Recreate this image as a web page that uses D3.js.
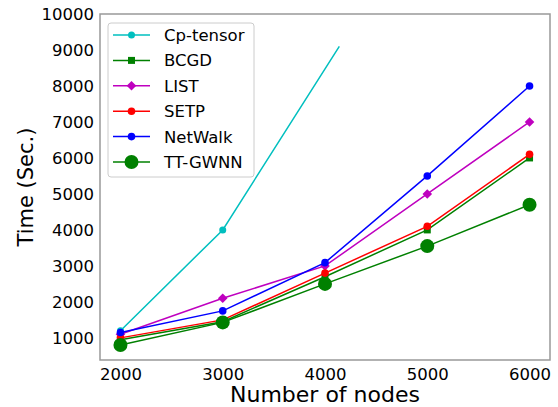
<!DOCTYPE html>
<html>
<head>
<meta charset="utf-8">
<script src="https://cdn.jsdelivr.net/npm/d3@7"></script>
<style>
  body { margin: 0; background: #fff; }
  text { font-family: "DejaVu Sans", sans-serif; fill: #000; }
</style>
</head>
<body>
<div class="chart"></div>
<script>
// node counts on the x axis
var nodes = [2000, 3000, 4000, 5000, 6000];
var xTicks = [2000, 3000, 4000, 5000, 6000];
var yTicks = [1000, 2000, 3000, 4000, 5000, 6000, 7000, 8000, 9000, 10000];

// Cp-tensor runs off quickly, last point has no marker
var cpNodes = [2000, 3000, 4140];
var cpTensor = [1200, 4000, 9100];
var bcgd = [950, 1450, 2700, 4000, 6000];
var list = [1100, 2100, 3000, 5000, 7000];
var setp = [1000, 1500, 2800, 4100, 6100];
var netwalk = [1150, 1750, 3090, 5500, 8000];
var ttgwnn = [800, 1430, 2500, 3550, 4700];

var series = [
  {name: "Cp-tensor", x: cpNodes, y: cpTensor, color: "#00bfbf", shape: "circle", size: 3.5, marked: 2},
  {name: "BCGD", x: nodes, y: bcgd, color: "#008000", shape: "square", size: 3.5},
  {name: "LIST", x: nodes, y: list, color: "#bf00bf", shape: "diamond", size: 4.8},
  {name: "SETP", x: nodes, y: setp, color: "#ff0000", shape: "circle", size: 3.8},
  {name: "NetWalk", x: nodes, y: netwalk, color: "#0000ff", shape: "circle", size: 3.8},
  {name: "TT-GWNN", x: nodes, y: ttgwnn, color: "#008000", shape: "circle", size: 7}
];

var W = 558, H = 407;
var margin = {left: 100, right: 8, top: 14, bottom: 47};

var svg = d3.select("div.chart")
  .append("svg")
  .attr("width", W)
  .attr("height", H);

var x = d3.scaleLinear().domain([1800, 6200]).range([margin.left, W - margin.right]);
var y = d3.scaleLinear().domain([385, 10000]).range([H - margin.bottom, margin.top]);

svg.append("clipPath").attr("id", "clip")
  .append("rect")
  .attr("x", margin.left).attr("y", margin.top)
  .attr("width", W - margin.left - margin.right)
  .attr("height", H - margin.top - margin.bottom);

// axes
var xAxis = svg.append("g")
  .attr("transform", "translate(0," + (H - margin.bottom) + ")")
  .call(d3.axisBottom(x).tickValues(xTicks).tickSize(0).tickPadding(8).tickFormat(d3.format("d")));
var yAxis = svg.append("g")
  .attr("transform", "translate(" + margin.left + ",0)")
  .call(d3.axisLeft(y).tickValues(yTicks).tickSize(0).tickPadding(6).tickFormat(d3.format("d")));
[xAxis, yAxis].forEach(function(g){
  g.select(".domain").remove();
  g.selectAll("text").style("font-size", "16.5px").style("font-family", "DejaVu Sans");
});

// frame
svg.append("rect")
  .attr("x", margin.left).attr("y", margin.top)
  .attr("width", W - margin.left - margin.right)
  .attr("height", H - margin.top - margin.bottom)
  .attr("fill", "none")
  .attr("stroke", "#999")
  .attr("stroke-width", 1.5);

function symbolFor(s){
  if (s.shape === "diamond") {
    var r = s.size;
    return "M0," + (-r) + "L" + r + ",0L0," + r + "L" + (-r) + ",0Z";
  }
  var t = s.shape === "square" ? d3.symbolSquare : d3.symbolCircle;
  var area = s.shape === "square" ? (2*s.size)*(2*s.size) : Math.PI*s.size*s.size;
  return d3.symbol().type(t).size(area)();
}

var line = d3.line();
var plot = svg.append("g").attr("clip-path", "url(#clip)");

series.forEach(function(s){
  var pts = s.x.map(function(v, i){ return [x(v), y(s.y[i])]; });
  plot.append("path")
    .attr("d", line(pts))
    .attr("fill", "none")
    .attr("stroke", s.color)
    .attr("stroke-width", 1.5);
  var n = s.marked || pts.length;
  plot.selectAll(null)
    .data(pts.slice(0, n))
    .enter()
    .append("path")
    .attr("d", symbolFor(s))
    .attr("transform", function(d){ return "translate(" + d[0] + "," + d[1] + ")"; })
    .attr("fill", s.color);
});

// legend
var lg = svg.append("g").attr("transform", "translate(108,23)");
lg.append("rect")
  .attr("width", 146).attr("height", 154)
  .attr("rx", 3)
  .attr("fill", "#fff").attr("fill-opacity", 0.8)
  .attr("stroke", "#ccc");
series.forEach(function(s, i){
  var yy = 12 + i * 25.4;
  lg.append("line")
    .attr("x1", 5).attr("x2", 42)
    .attr("y1", yy).attr("y2", yy)
    .attr("stroke", s.color).attr("stroke-width", 1.5);
  lg.append("path")
    .attr("d", symbolFor(s))
    .attr("transform", "translate(23.5," + yy + ")")
    .attr("fill", s.color);
  lg.append("text")
    .attr("x", 56).attr("y", yy)
    .attr("dy", "0.36em")
    .style("font-size", "16.5px")
    .text(s.name);
});

// axis titles
svg.append("text")
  .attr("x", (margin.left + W - margin.right) / 2)
  .attr("y", 402)
  .attr("text-anchor", "middle")
  .style("font-size", "22px")
  .text("Number of nodes");
svg.append("text")
  .attr("transform", "translate(33," + ((margin.top + H - margin.bottom) / 2) + ") rotate(-90)")
  .attr("text-anchor", "middle")
  .style("font-size", "21px")
  .text("Time (Sec.)");
</script>
</body>
</html>
